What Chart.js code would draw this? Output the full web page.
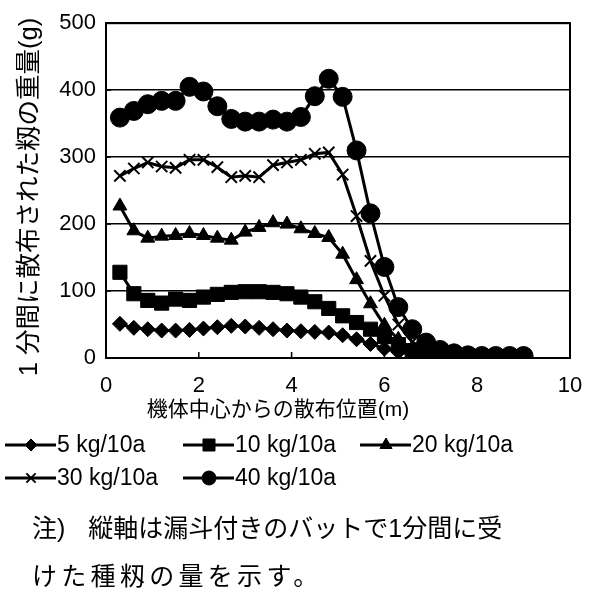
<!DOCTYPE html>
<html>
<head>
<meta charset="utf-8">
<script src="https://cdn.jsdelivr.net/npm/chart.js@4"></script>
<style>
  html, body { margin: 0; padding: 0; background: #fff; }
  #wrap { position: relative; width: 596px; height: 593px; }
  .note { position: absolute; left: 32px; font: 25px "Liberation Sans", "Noto Sans CJK JP", sans-serif; color: #000; white-space: nowrap; }
</style>
</head>
<body>
<div id="wrap">
  <canvas id="chart" width="596" height="593"></canvas>
  <div class="note" style="top:508px">注)<span style="display:inline-block;width:23px"></span>縦軸は漏斗付きのバットで1分間に受</div>
  <div class="note" style="top:556px;letter-spacing:4.3px">けた種籾の量を示す。</div>
</div>
<script>
const xs = [0.3, 0.6, 0.9, 1.2, 1.5, 1.8, 2.1, 2.4, 2.7, 3.0, 3.3, 3.6, 3.9, 4.2, 4.5,
            4.8, 5.1, 5.4, 5.7, 6.0, 6.3, 6.6, 6.9, 7.2, 7.5, 7.8, 8.1, 8.4, 8.7, 9.0];
const kg5  = [51, 45, 43, 41, 41, 42, 44, 46, 48, 47, 45, 43, 41, 40, 39,
              38, 34, 28, 21, 14, 9, 6, 4, 3, 2, 2, 2, 1, 1, 1];
const kg10 = [128, 96, 86, 82, 88, 86, 91, 95, 98, 99, 99, 98, 96, 91, 84,
              74, 63, 53, 43, 32, 20, 11, 6, 4, 3, 2, 2, 2, 1, 1];
const kg20 = [227, 190, 179, 182, 183, 186, 183, 179, 176, 188, 195, 202, 200, 193, 186,
              180, 155, 117, 81, 49, 28, 14, 7, 4, 3, 2, 2, 2, 2, 1];
const kg30 = [272, 283, 292, 286, 284, 296, 296, 285, 270, 272, 270, 288, 292, 296, 305,
              307, 274, 212, 145, 93, 50, 24, 11, 6, 4, 3, 3, 2, 2, 2];
const kg40 = [359, 369, 379, 384, 384, 405, 398, 376, 357, 353, 353, 356, 353, 360, 391,
              417, 390, 310, 216, 136, 76, 43, 23, 12, 7, 4, 3, 3, 3, 3];
const seriesLabels = ["5 kg/10a", "10 kg/10a", "20 kg/10a", "30 kg/10a", "40 kg/10a"];
const xTitle = "機体中心からの散布位置(m)";
const yTitle = "1 分間に散布された籾の重量(g)";

const FONT = "'Liberation Sans', 'Noto Sans CJK JP', sans-serif";

function pts(vals){ return xs.map((x,i)=>({x, y: vals[i]})); }

const styles = [
  {pointStyle:'rectRot', radius:7.5, legend:6},
  {pointStyle:'rect', radius:10, legend:8.5},
  {pointStyle:'triangle', radius:8, legend:7},
  {pointStyle:'crossRot', radius:8, legend:6.5},
  {pointStyle:'circle', radius:9.5, legend:7}
];
const allSeries = [kg5, kg10, kg20, kg30, kg40];

const datasets = allSeries.map((s,i)=>({
  label: seriesLabels[i],
  data: pts(s),
  borderColor: '#000',
  backgroundColor: '#000',
  borderWidth: 3,
  pointStyle: styles[i].pointStyle,
  pointRadius: styles[i].radius,
  pointBorderWidth: styles[i].pointStyle === 'crossRot' ? 2 : 1,
  pointBackgroundColor: '#000',
  pointBorderColor: '#000',
  tension: 0
}));

// legend rows, axis titles, frame and inner tick marks
const extras = {
  id: 'extras',
  afterDraw(chart){
    const ctx = chart.ctx;
    const a = chart.chartArea;
    const xs_ = chart.scales.x, ys_ = chart.scales.y;
    ctx.save();
    ctx.strokeStyle = '#000';
    ctx.lineWidth = 2;
    ctx.strokeRect(a.left, a.top, a.right - a.left, a.bottom - a.top);
    ctx.lineWidth = 1.5;
    xs_.ticks.forEach(t=>{
      const px = xs_.getPixelForValue(t.value);
      ctx.beginPath(); ctx.moveTo(px, a.bottom); ctx.lineTo(px, a.bottom - 6); ctx.stroke();
    });
    ys_.ticks.forEach(t=>{
      const py = ys_.getPixelForValue(t.value);
      ctx.beginPath(); ctx.moveTo(a.left, py); ctx.lineTo(a.left + 5, py); ctx.stroke();
    });

    ctx.fillStyle = '#000';
    ctx.textBaseline = 'middle';
    ctx.textAlign = 'center';
    ctx.font = "21px " + FONT;
    ctx.fillText(xTitle, 278, 410);

    ctx.save();
    ctx.translate(30, 197);
    ctx.rotate(-Math.PI/2);
    ctx.font = "25.5px " + FONT;
    ctx.fillText(yTitle, 0, 0);
    ctx.restore();

    const slots = [[5,445],[183,445],[360,445],[5,478],[183,478]];
    ctx.font = "23px " + FONT;
    ctx.textAlign = 'left';
    chart.data.datasets.forEach((ds,i)=>{
      const [lx, ly] = slots[i];
      ctx.strokeStyle = '#000';
      ctx.lineWidth = 3;
      ctx.beginPath(); ctx.moveTo(lx, ly); ctx.lineTo(lx + 51, ly); ctx.stroke();
      ctx.lineWidth = ds.pointBorderWidth;
      Chart.helpers.drawPoint(ctx, {pointStyle: ds.pointStyle, radius: styles[i].legend, borderWidth: ds.pointBorderWidth}, lx + 26, ly);
      ctx.fillStyle = '#000';
      ctx.fillText(ds.label, lx + 52, ly + 1);
    });
    ctx.restore();
  }
};

new Chart(document.getElementById('chart'), {
  type: 'line',
  data: { datasets },
  options: {
    responsive: false,
    animation: false,
    layout: { padding: { top: 14, right: 26, left: 0, bottom: 0 } },
    plugins: { legend: { display: false }, tooltip: { enabled: false } },
    scales: {
      x: {
        type: 'linear', min: 0, max: 10,
        ticks: { stepSize: 2, color: '#000', font: { size: 22, family: FONT }, padding: 7 },
        grid: { display: false },
        border: { color: '#000', width: 2 },
        afterFit(s){ s.height = 235; }
      },
      y: {
        min: 0, max: 500,
        ticks: { stepSize: 100, color: '#000', font: { size: 22, family: FONT }, padding: 10 },
        grid: { color: '#000', lineWidth: 1.5, drawTicks: false },
        border: { color: '#000', width: 2 },
        afterFit(s){ s.width = 106; }
      }
    }
  },
  plugins: [extras]
});
</script>
</body>
</html>
